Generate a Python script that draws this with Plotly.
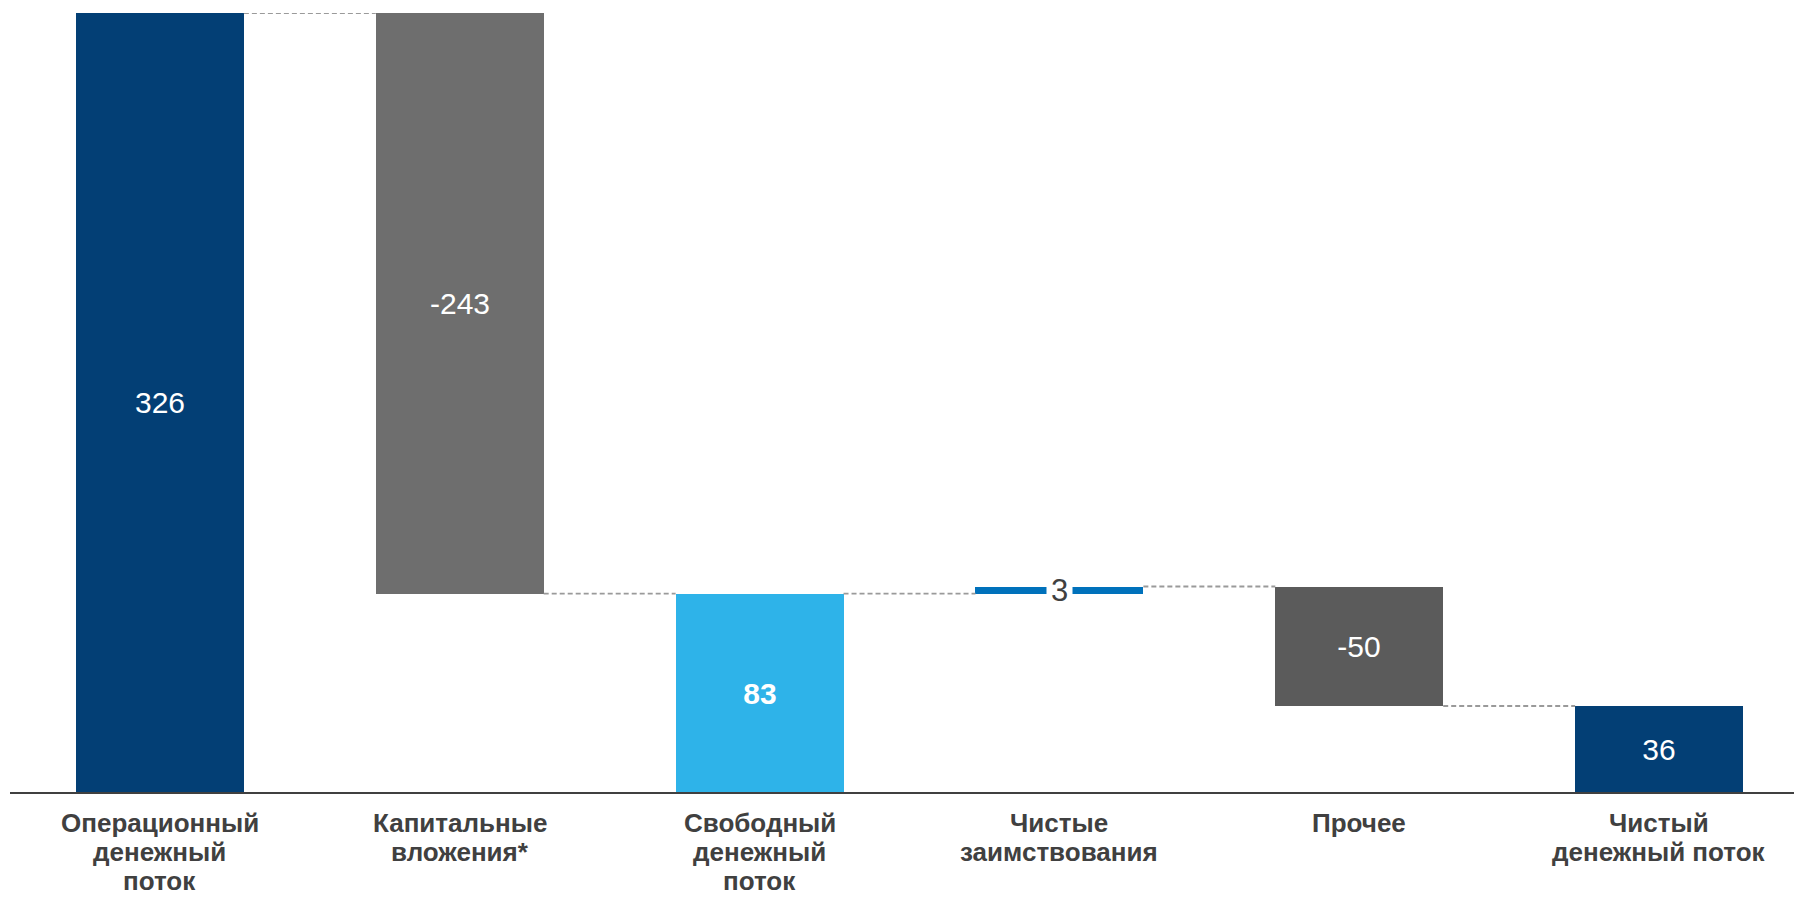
import plotly.graph_objects as go

categories = [
    "Операционный<br>денежный<br>поток",
    "Капитальные<br>вложения*",
    "Свободный<br>денежный<br>поток",
    "Чистые<br>заимствования",
    "Прочее",
    "Чистый<br>денежный поток",
]
values = [326, -243, 83, 3, -50, 36]
measures = ["absolute", "relative", "total", "relative", "relative", "total"]
colors = ["#033F75", "#6E6E6E", "#2EB3E9", "#0071BB", "#5B5B5B", "#033F75"]
labels = ["326", "-243", "<b>83</b>", "3", "-50", "36"]

# compute bases/heights from the data
bases, heights, ends = [], [], []
cum = 0
for v, m in zip(values, measures):
    if m == "absolute":
        base, h = 0, v
        cum = v
    elif m == "total":
        base, h = 0, cum
    else:
        if v >= 0:
            base, h = cum, v
        else:
            base, h = cum + v, -v
        cum += v
    bases.append(base)
    heights.append(h)
    ends.append(cum)

xs = list(range(len(categories)))
bw = 0.56
font = "Arial, 'Liberation Sans', sans-serif"

textpos = ["inside" if h > 10 else "none" for h in heights]

fig = go.Figure()
fig.add_trace(go.Bar(
    x=xs, y=heights, base=bases, width=bw,
    marker=dict(color=colors, line=dict(width=0)),
    text=labels, textposition=textpos, insidetextanchor="middle",
    textfont=dict(color="white", size=30, family=font),
    textangle=0, constraintext="none",
    hoverinfo="skip",
))

# connectors
for i in range(len(xs) - 1):
    fig.add_trace(go.Scatter(
        x=[xs[i] + bw / 2, xs[i + 1] - bw / 2], y=[ends[i], ends[i]],
        mode="lines", line=dict(color="#9A9A9A", width=1.8, dash="5px,3px"),
        hoverinfo="skip", showlegend=False,
    ))

# label for thin bars
for i, h in enumerate(heights):
    if h <= 10:
        fig.add_annotation(
            x=xs[i], y=bases[i] + h / 2, text=labels[i], showarrow=False,
            font=dict(color="#404040", size=31, family=font),
            bgcolor="white", borderpad=4, xanchor="center", yanchor="middle",
        )

# category labels (one annotation per line for tighter line spacing)
for i, c in enumerate(categories):
    for k, line in enumerate(c.split("<br>")):
        fig.add_annotation(
            x=xs[i], xref="x", y=0, yref="paper", text="<b>" + line + "</b>",
            showarrow=False, xanchor="center", yanchor="middle",
            yshift=-31 - 29 * k, borderpad=0,
            font=dict(color="#404040", size=26, family=font),
        )

fig.update_layout(
    width=1794, height=900,
    margin=dict(l=10, r=0, t=13, b=108),
    plot_bgcolor="white", paper_bgcolor="white",
    showlegend=False, bargap=0,
    xaxis=dict(
        range=[-0.5, 5.45], tickvals=xs, showticklabels=False,
        showline=True, linecolor="#404040", linewidth=2,
        showgrid=False, zeroline=False, ticks="", automargin=False,
    ),
    yaxis=dict(range=[0, 326], visible=False, showgrid=False, zeroline=False,
               automargin=False),
)

fig.write_html("out.html")
